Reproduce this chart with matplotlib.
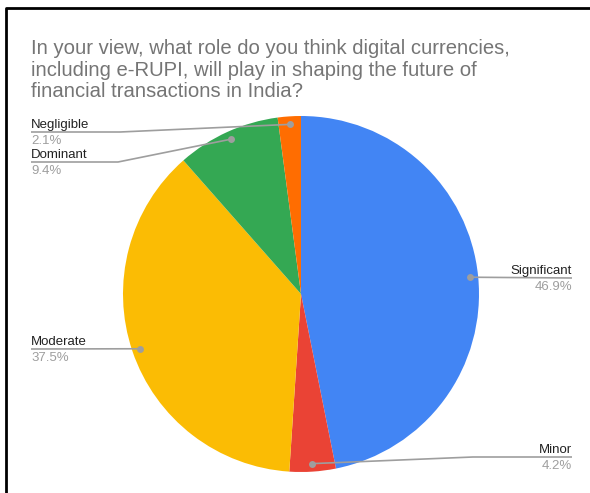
import numpy as np
import matplotlib.pyplot as plt

labels = ['Significant', 'Minor', 'Moderate', 'Dominant', 'Negligible']
shares = [46.9, 4.2, 37.5, 9.4, 2.1]
colors = ['#4285F4', '#EA4335', '#FBBC04', '#34A853', '#FF6D01']

title = ('In your view, what role do you think digital currencies,\n'
         'including e-RUPI, will play in shaping the future of\n'
         'financial transactions in India?')

W, H = 590, 493
plt.rcParams['font.family'] = ['Liberation Sans', 'DejaVu Sans']

fig = plt.figure(figsize=(W / 100, H / 100), dpi=100)
ax = fig.add_axes([0, 0, 1, 1])


def py(y):
    # pixel row (top-down) -> axes y
    return H - y


cx, cy, r = 301, py(294), 178
wedges, _ = ax.pie(shares, colors=colors, startangle=90, counterclock=False,
                   center=(cx, cy), radius=r, frame=True,
                   wedgeprops=dict(linewidth=0))
ax.set_xlim(0, W)
ax.set_ylim(0, H)
ax.axis('off')
ax.set_aspect('auto')

# leader line bend point, line end, text side
layout = {
    'Significant': ((None, 278), 572, 'right'),
    'Minor': ((473, 457), 572, 'right'),
    'Moderate': ((None, 349), 31, 'left'),
    'Dominant': ((118, 162), 31, 'left'),
    'Negligible': ((120, 132), 31, 'left'),
}

for w, name, val in zip(wedges, labels, shares):
    mid = np.deg2rad((w.theta1 + w.theta2) / 2)
    dx, dy = cx + 0.955 * r * np.cos(mid), cy + 0.955 * r * np.sin(mid)
    (bx, by), ex, ha = layout[name]
    ly = py(by)
    if bx is None:
        xs, ys = [dx, ex], [dy, ly]
    else:
        xs, ys = [dx, bx, ex], [dy, ly, ly]
    ax.plot(xs, ys, color='#9e9e9e', lw=1.2, solid_capstyle='butt', zorder=3)
    ax.plot(dx, dy, 'o', ms=5, color='#9e9e9e', mec='none', zorder=4)
    ax.text(ex, ly + 4, name, ha=ha, va='baseline', fontsize=9.5, color='#222222')
    ax.text(ex, ly - 12, f'{val}%', ha=ha, va='baseline', fontsize=9.5, color='#9e9e9e')

ax.text(31, py(97), title, ha='left', va='baseline', fontsize=14.6,
        color='#757575', linespacing=1.15)

# outer frame
ax.plot([6, 6, W + 5], [-5, py(8), py(8)], color='black', lw=2, zorder=5)

fig.savefig('out.png', dpi=100)
